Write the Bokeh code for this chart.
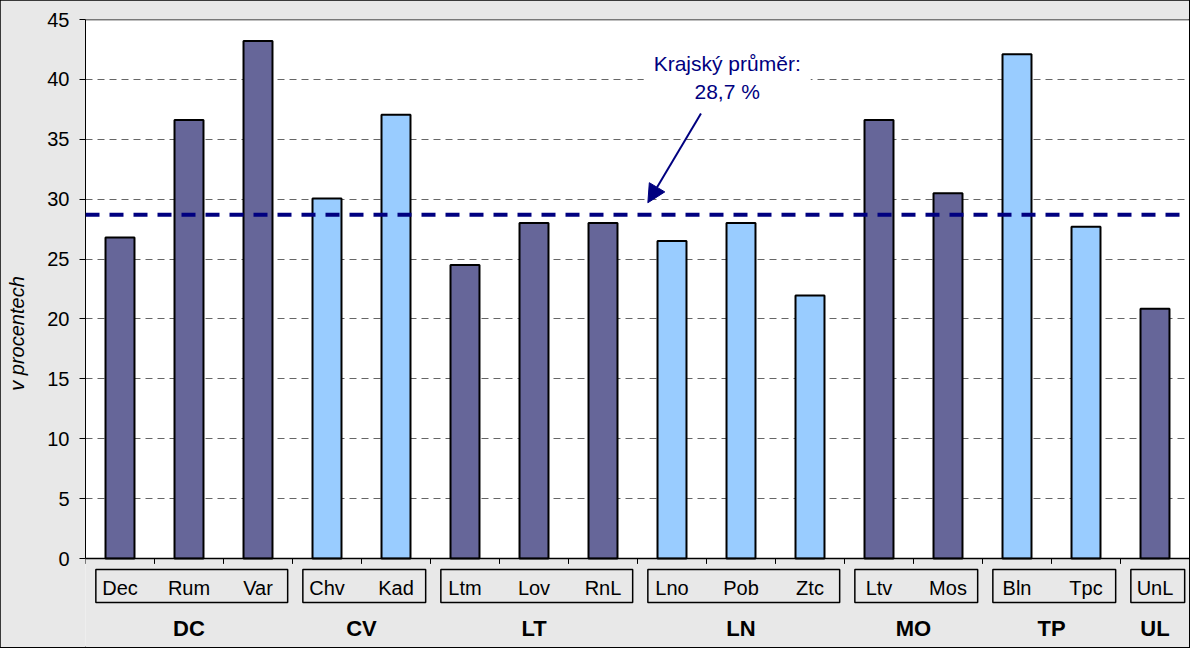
from bokeh.plotting import figure
from bokeh.models import Range1d, FixedTicker, Span, BoxAnnotation, Label, Arrow, NormalHead, ColumnDataSource
from bokeh.core.properties import value
from bokeh.embed import file_html
from bokeh.resources import INLINE

# ---- data ----
districts = ["Dec", "Rum", "Var", "Chv", "Kad", "Ltm", "Lov", "RnL",
             "Lno", "Pob", "Ztc", "Ltv", "Mos", "Bln", "Tpc", "UnL"]
district_group = ["DC", "DC", "DC", "CV", "CV", "LT", "LT", "LT",
                  "LN", "LN", "LN", "MO", "MO", "TP", "TP", "UL"]
values = [26.8, 36.6, 43.2, 30.05, 37.05, 24.5, 28.0, 28.0,
          26.5, 28.0, 21.95, 36.6, 30.5, 42.1, 27.7, 20.85]
groups = ["DC", "CV", "LT", "LN", "MO", "TP", "UL"]
y_ticks = [0, 5, 10, 15, 20, 25, 30, 35, 40, 45]
regional_avg = 28.7
avg_label = "Krajský průměr:\n28,7 %"

DARK = "#666699"
LIGHT = "#99CCFF"
NAVY = "#000080"
GREY = "#E8E8E8"
FONT = "Liberation Sans"

# ---- derived positions ----
xs = [i + 0.5 for i in range(len(districts))]
group_span = {}
for i, g in enumerate(district_group):
    lo, hi = group_span.get(g, (i, i + 1))
    group_span[g] = (min(lo, i), max(hi, i + 1))
group_colors = {g: (DARK if k % 2 == 0 else LIGHT) for k, g in enumerate(groups)}
colors = [group_colors[g] for g in district_group]

src = ColumnDataSource(dict(x=xs, top=values, color=colors, name=districts))

p = figure(width=1189, height=647,
           x_range=Range1d(0, len(districts)), y_range=Range1d(-7.43, 45),
           output_backend="svg", toolbar_location=None, tools="",
           x_axis_location=None, y_axis_location="left",
           min_border_left=85, min_border_top=19, min_border_bottom=0, min_border_right=0)

p.background_fill_color = GREY
p.border_fill_color = GREY
p.outline_line_color = None
p.styles = {"outline": "2px solid black", "outline-offset": "-1px"}

# white plot area
p.add_layout(BoxAnnotation(bottom=0, top=45, fill_color="white", fill_alpha=1.0,
                           line_color=None, level="image"))

# grid
p.xgrid.visible = False
p.ygrid.ticker = FixedTicker(ticks=y_ticks[1:-1])
p.ygrid.grid_line_color = "#666666"
p.ygrid.grid_line_dash = "7 5"
p.ygrid.grid_line_width = 1

# y axis
ax = p.yaxis[0]
ax.ticker = FixedTicker(ticks=y_ticks)
ax.bounds = (0, 45)
ax.minor_tick_line_color = None
ax.major_tick_in = 0
ax.major_tick_out = 6
ax.axis_line_color = "black"
ax.major_tick_line_color = "black"
ax.major_label_text_font = FONT
ax.major_label_text_font_size = "20px"
ax.major_label_text_color = "black"
ax.major_label_standoff = 10
ax.axis_label = "v procentech"
ax.axis_label_text_font = FONT
ax.axis_label_text_font_style = "italic"
ax.axis_label_text_font_size = "20px"
ax.axis_label_text_color = "black"
ax.axis_label_standoff = 16

# top border and x axis line
p.add_layout(Span(location=45, dimension="width", line_color="black", line_width=1.5))
p.add_layout(Span(location=0, dimension="width", line_color="black", line_width=1.5))

# bars
p.vbar(x="x", top="top", bottom=0, width=0.42, fill_color="color",
       line_color="black", line_width=2, source=src)

# tick marks on category boundaries
bounds = list(range(len(districts) + 1))
p.segment(x0=bounds, y0=[0] * len(bounds), x1=bounds, y1=[-0.45] * len(bounds),
          line_color="black", line_width=1)

# group boxes
box_l = [group_span[g][0] + 0.15 for g in groups]
box_r = [group_span[g][1] - 0.07 for g in groups]
p.quad(left=box_l, right=box_r, top=-0.92, bottom=-3.67, fill_color=None,
       line_color="black", line_width=1.5)

# district labels
p.text(x=xs, y=[-2.5] * len(xs), text=districts, text_font=value(FONT),
       text_font_size="20px", text_align="center", text_baseline="middle",
       text_color="black")

# group labels
gx = [(group_span[g][0] + group_span[g][1]) / 2 for g in groups]
p.text(x=gx, y=[-5.84] * len(gx), text=groups, text_font=value(FONT),
       text_font_size="22px", text_font_style="bold", text_align="center",
       text_baseline="middle", text_color="black")

# regional average line
p.add_layout(Span(location=regional_avg, dimension="width", line_color=NAVY,
                  line_width=4, line_dash="14 10"))

# annotation
p.add_layout(Label(x=9.3, y=40.15, text=avg_label, text_align="center",
                   text_baseline="middle", text_color=NAVY, text_font=FONT,
                   text_font_size="21px", background_fill_color="white",
                   background_fill_alpha=1.0, padding=10))
p.add_layout(Arrow(end=NormalHead(size=18, fill_color=NAVY, line_color=NAVY),
                   x_start=8.92, y_start=37.15, x_end=8.15, y_end=regional_avg + 1.0,
                   line_color=NAVY, line_width=2))

open("out.html", "w").write(file_html(p, INLINE))
